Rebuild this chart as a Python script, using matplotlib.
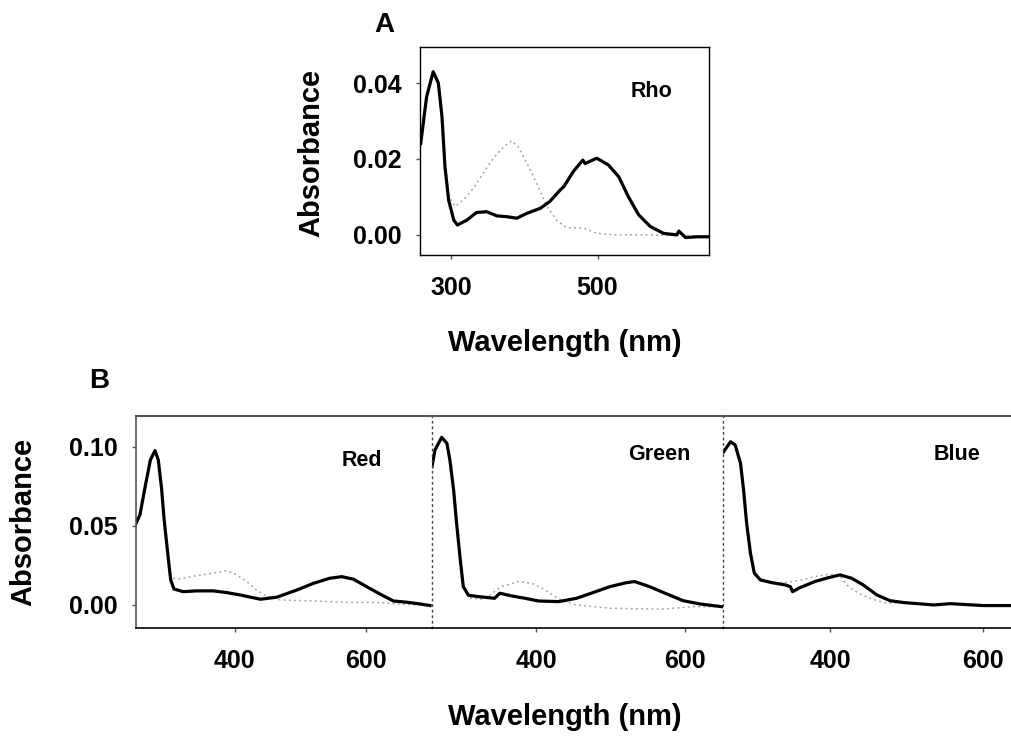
import matplotlib
matplotlib.use("Agg")
import matplotlib.pyplot as plt

plt.rcParams["font.family"] = ["Liberation Sans", "DejaVu Sans"]
plt.rcParams["font.weight"] = "bold"

# ------------------------------------
# PANEL A : Rho (dark = solid, light = dotted)
# ------------------------------------
rho_dark_wl = [259, 267, 276, 283, 288, 292, 297, 304, 309, 322, 335, 349, 363, 376,
               390, 404, 422, 435, 449, 454, 467, 480, 483, 499, 515, 529, 542, 556,
               572, 590, 608, 611, 620, 636, 651]
rho_dark_abs = [0.0241, 0.0364, 0.0430, 0.0400, 0.0311, 0.0180, 0.0092, 0.0039, 0.0026,
                0.0039, 0.0059, 0.0061, 0.0050, 0.0048, 0.0044, 0.0057, 0.0070, 0.0088,
                0.0118, 0.0127, 0.0167, 0.0197, 0.0188, 0.0202, 0.0184, 0.0153, 0.0101,
                0.0053, 0.0022, 0.0004, 0.0000, 0.0010, -0.0007, -0.0005, -0.0005]
rho_light_wl = [259, 267, 276, 283, 288, 292, 298, 306, 317, 331, 344, 358, 372, 383,
                392, 406, 417, 431, 445, 458, 481, 499, 526, 572, 617, 651]
rho_light_abs = [0.0241, 0.0364, 0.0430, 0.0400, 0.0311, 0.0180, 0.0100, 0.0075, 0.0092,
                 0.0123, 0.0162, 0.0202, 0.0232, 0.0248, 0.0232, 0.0180, 0.0136, 0.0075,
                 0.0037, 0.0019, 0.0018, 0.0004, 0.0000, 0.0000, -0.0002, -0.0005]

# ------------------------------------
# PANEL B : cone pigments
# ------------------------------------
red_dark_wl = [249, 255, 263, 271, 278, 283, 288, 292, 298, 302, 307, 321, 342, 367, 388,
               408, 439, 464, 495, 520, 545, 563, 581, 601, 622, 642, 663, 683, 698]
red_dark_abs = [0.0516, 0.0570, 0.0749, 0.0918, 0.0977, 0.0918, 0.0739, 0.0538, 0.0306,
                0.0158, 0.0101, 0.0084, 0.0089, 0.0089, 0.0078, 0.0063, 0.0036, 0.0049,
                0.0095, 0.0137, 0.0169, 0.0179, 0.0163, 0.0116, 0.0068, 0.0025, 0.0017,
                0.0006, -0.0004]
red_light_wl = [249, 255, 263, 271, 278, 283, 288, 292, 298, 301, 316, 342, 367, 388, 403,
                418, 433, 449, 469, 520, 571, 622, 648, 698]
red_light_abs = [0.0516, 0.0570, 0.0749, 0.0918, 0.0977, 0.0918, 0.0739, 0.0538, 0.0306,
                 0.0169, 0.0165, 0.0186, 0.0201, 0.0217, 0.0190, 0.0148, 0.0095, 0.0053,
                 0.0032, 0.0025, 0.0017, 0.0015, 0.0006, -0.0004]

green_dark_wl = [260, 264, 273, 280, 284, 289, 293, 298, 302, 309, 322, 344, 351, 367, 385,
                 403, 430, 454, 476, 499, 521, 532, 552, 575, 597, 620, 649]
green_dark_abs = [0.0875, 0.0981, 0.1061, 0.1023, 0.0918, 0.0728, 0.0517, 0.0285, 0.0116,
                  0.0061, 0.0053, 0.0042, 0.0074, 0.0057, 0.0042, 0.0025, 0.0021, 0.0042,
                  0.0078, 0.0116, 0.0141, 0.0148, 0.0116, 0.0070, 0.0027, 0.0006, -0.0011]
green_light_wl = [260, 264, 273, 280, 284, 289, 293, 298, 302, 309, 330, 353, 376, 394,
                  412, 425, 438, 454, 499, 566, 611, 649]
green_light_abs = [0.0875, 0.0981, 0.1061, 0.1023, 0.0918, 0.0728, 0.0517, 0.0285, 0.0116,
                   0.0045, 0.0035, 0.0116, 0.0148, 0.0137, 0.0095, 0.0053, 0.0021, 0.0000,
                   -0.0021, -0.0027, -0.0011, -0.0011]

blue_dark_wl = [261, 270, 276, 283, 287, 291, 296, 301, 309, 324, 341, 348, 351, 359, 380,
                398, 413, 428, 443, 461, 478, 496, 535, 557, 600, 636]
blue_dark_abs = [0.0970, 0.1033, 0.1013, 0.0897, 0.0728, 0.0517, 0.0327, 0.0201, 0.0158,
                 0.0141, 0.0127, 0.0116, 0.0084, 0.0106, 0.0148, 0.0173, 0.0190, 0.0169,
                 0.0127, 0.0063, 0.0027, 0.0015, 0.0000, 0.0008, -0.0004, -0.0004]
blue_light_wl = [261, 270, 276, 283, 287, 291, 296, 301, 309, 324, 341, 363, 380, 398,
                 411, 424, 437, 452, 474, 496, 535, 557, 600, 636]
blue_light_abs = [0.0970, 0.1033, 0.1013, 0.0897, 0.0728, 0.0517, 0.0327, 0.0201, 0.0158,
                  0.0141, 0.0141, 0.0158, 0.0179, 0.0194, 0.0190, 0.0116, 0.0074, 0.0042,
                  0.0010, 0.0015, 0.0000, 0.0008, -0.0004, -0.0004]

W, H = 1011, 738
fig = plt.figure(figsize=(W / 100, H / 100), dpi=100)


def px_box(x0, y0, x1, y1):
    # pixel box (top-left origin) -> figure fraction rect
    return [x0 / W, 1 - y1 / H, (x1 - x0) / W, (y1 - y0) / H]


def draw_pair(ax, wl_d, ab_d, wl_l, ab_l):
    ax.plot(wl_l, ab_l, color="#a0a0a0", linestyle=(0, (1.2, 2.2)), linewidth=1.1)
    ax.plot(wl_d, ab_d, color="black", linewidth=2.3)


def style_ticks(ax):
    ax.tick_params(axis="x", direction="out", length=3, width=1, color="#555555",
                   labelsize=18, pad=12)
    ax.tick_params(axis="y", direction="out", length=3, width=1, color="#555555",
                   labelsize=18, pad=10)


# ---------------- Panel A ----------------
axA = fig.add_axes(px_box(420, 47, 709, 255))
draw_pair(axA, rho_dark_wl, rho_dark_abs, rho_light_wl, rho_light_abs)
axA.set_xlim(258, 652)
axA.set_ylim(-0.0053, 0.0495)
axA.set_xticks([300, 500])
axA.set_yticks([0.0, 0.02, 0.04])
axA.set_yticklabels(["0.00", "0.02", "0.04"])
style_ticks(axA)
for s in axA.spines.values():
    s.set_linewidth(1)
    s.set_color("black")
axA.text(0.80, 0.785, "Rho", transform=axA.transAxes, fontsize=15.5,
         ha="center", va="center")

fig.text(384 / W, 1 - 25 / H, "A", fontsize=20, ha="center", va="center")
fig.text(311 / W, 1 - 153 / H, "Absorbance", fontsize=21, rotation=90,
         ha="center", va="center")
fig.text(565 / W, 1 - 343 / H, "Wavelength (nm)", fontsize=21,
         ha="center", va="center")

# ---------------- Panel B ----------------
panels = [
    ("Red", red_dark_wl, red_dark_abs, red_light_wl, red_light_abs,
     (136, 432), (249, 701), (362, 461)),
    ("Green", green_dark_wl, green_dark_abs, green_light_wl, green_light_abs,
     (432, 722.5), (260, 650), (659, 455)),
    ("Blue", blue_dark_wl, blue_dark_abs, blue_light_wl, blue_light_abs,
     (722.5, 1011), (259.5, 636), (957, 455)),
]

for i, (name, wd, ad, wl_, al, xs, xl, lab) in enumerate(panels):
    ax = fig.add_axes(px_box(xs[0], 416, xs[1], 628))
    ax.patch.set_alpha(0)
    draw_pair(ax, wd, ad, wl_, al)
    ax.set_xlim(*xl)
    ax.set_ylim(-0.0146, 0.1196)
    ax.set_xticks([400, 600])
    style_ticks(ax)
    ax.spines["right"].set_visible(False)
    ax.spines["top"].set_color("#555555")
    ax.spines["top"].set_linewidth(1.5)
    ax.spines["bottom"].set_color("black")
    ax.spines["bottom"].set_linewidth(1.2)
    if i == 0:
        ax.set_yticks([0.0, 0.05, 0.10])
        ax.set_yticklabels(["0.00", "0.05", "0.10"])
        ax.spines["left"].set_color("#555555")
        ax.spines["left"].set_linewidth(1.2)
    else:
        ax.set_yticks([])
        ax.spines["left"].set_linestyle((0, (1, 3)))
        ax.spines["left"].set_color("#444444")
        ax.spines["left"].set_linewidth(1)
    fig.text(lab[0] / W, 1 - lab[1] / H, name, fontsize=15.5,
             ha="center", va="center")

fig.text(99 / W, 1 - 381 / H, "B", fontsize=20, ha="center", va="center")
fig.text(23 / W, 1 - 522 / H, "Absorbance", fontsize=21, rotation=90,
         ha="center", va="center")
fig.text(565 / W, 1 - 717 / H, "Wavelength (nm)", fontsize=21,
         ha="center", va="center")

fig.savefig("out.png", dpi=100)
